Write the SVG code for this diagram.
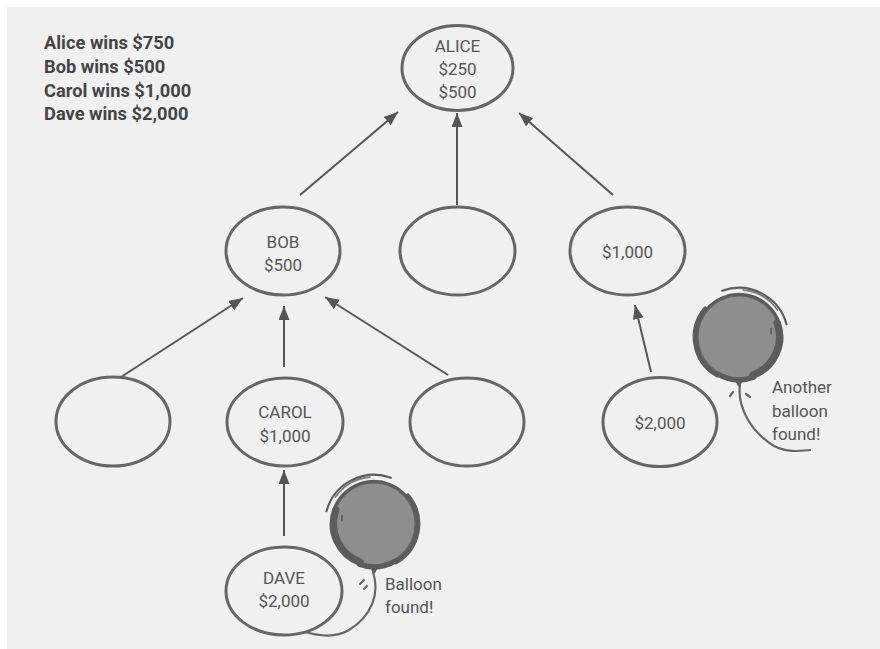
<svg xmlns="http://www.w3.org/2000/svg" width="880" height="649" viewBox="0 0 880 649">
  <style>
    .node ellipse { fill: none; stroke: #666; stroke-width: 3; }
    .node text, .note { font-family: Roboto, "Liberation Sans", sans-serif; font-size: 17px; fill: #555; text-anchor: middle; }
    .note { text-anchor: start; }
    .legend { font-family: Roboto, "Liberation Sans", sans-serif; font-size: 18.3px; font-weight: bold; fill: #444; }
    .edge { stroke: #555; stroke-width: 2; fill: none; marker-end: url(#head); }
    .ink { fill: none; stroke: #5c5c5c; stroke-linecap: round; }
    .string { fill: none; stroke: #666; stroke-width: 2.2; stroke-linecap: round; }
  </style>
  <defs>
    <marker id="head" markerUnits="userSpaceOnUse" markerWidth="15" markerHeight="12" refX="14" refY="5.5" orient="auto">
      <path d="M0,0 L14,5.5 L0,11 z" fill="#555"/>
    </marker>
    <!-- brush-painted balloon, centred on the origin -->
    <g id="balloon">
      <circle r="40" fill="#8e8e8e"/>
      <circle r="39" class="ink" stroke-width="2.5" opacity="0.8"/>
      <path class="ink" stroke-width="7" d="M-13,35.7 A38,38 0 0 1 -35.7,-13"/>
      <path class="ink" stroke-width="2" d="M-44.4,-11.9 A46,46 0 0 1 15.7,-43.2"/>
      <path class="ink" stroke-width="1.5" opacity="0.8" d="M-36,-25.2 A44,44 0 0 1 -3.8,-43.8"/>
      <path class="ink" stroke-width="4.5" d="M31.4,-26.4 A41,41 0 0 1 20.5,35.5"/>
      <path class="ink" stroke-width="5" d="M20,34.6 A40,40 0 0 1 -13.7,37.6"/>
      <path class="ink" stroke-width="2.5" d="M-37.6,-13.7 A40,40 0 0 1 30.6,-25.7"/>
      <path class="ink" stroke-width="1.5" d="M-30,-8 L-30,-3"/>
      <path d="M-4,40 L4,40 L1,46 L-1,46 z" fill="#5c5c5c"/>
    </g>
  </defs>

  <!-- panel -->
  <rect x="0" y="0" width="880" height="649" fill="#ffffff"/>
  <rect x="7" y="7" width="873" height="642" fill="#f0f0f0"/>

  <!-- payout summary -->
  <g id="legend" class="legend">
    <text x="44" y="49">Alice wins $750</text>
    <text x="44" y="73">Bob wins $500</text>
    <text x="44" y="97">Carol wins $1,000</text>
    <text x="44" y="120">Dave wins $2,000</text>
  </g>

  <!-- referral links -->
  <g id="connectors">
    <line class="edge" x1="300" y1="195" x2="398" y2="112"/>
    <line class="edge" x1="457" y1="205" x2="457" y2="113"/>
    <line class="edge" x1="613" y1="195" x2="519" y2="113"/>
    <line class="edge" x1="121" y1="377" x2="243" y2="298"/>
    <line class="edge" x1="284" y1="367" x2="284" y2="306"/>
    <line class="edge" x1="448" y1="375" x2="325" y2="297"/>
    <line class="edge" x1="651" y1="372" x2="635" y2="305"/>
    <line class="edge" x1="284" y1="536" x2="284" y2="470"/>
  </g>

  <g id="alice" class="node">
    <ellipse cx="457.5" cy="68" rx="55.5" ry="42.5"/>
    <text x="457.5" y="52">ALICE</text>
    <text x="457.5" y="75">$250</text>
    <text x="457.5" y="98">$500</text>
  </g>
  <g id="bob" class="node">
    <ellipse cx="283" cy="251" rx="57" ry="44"/>
    <text x="283" y="248">BOB</text>
    <text x="283" y="271">$500</text>
  </g>
  <g id="mid" class="node">
    <ellipse cx="457.5" cy="251" rx="57.5" ry="44"/>
  </g>
  <g id="right" class="node">
    <ellipse cx="627.5" cy="251" rx="57.5" ry="44"/>
    <text x="627.5" y="258">$1,000</text>
  </g>
  <g id="leftleaf" class="node">
    <ellipse cx="113" cy="421.5" rx="57" ry="44.5"/>
  </g>
  <g id="carol" class="node">
    <ellipse cx="285" cy="422" rx="58" ry="44"/>
    <text x="285" y="418">CAROL</text>
    <text x="285" y="442">$1,000</text>
  </g>
  <g id="rightleaf" class="node">
    <ellipse cx="467" cy="422" rx="57" ry="44"/>
  </g>
  <g id="finder2" class="node">
    <ellipse cx="660" cy="422" rx="57" ry="44.5"/>
    <text x="660" y="429">$2,000</text>
  </g>
  <g id="dave" class="node">
    <ellipse cx="284" cy="591" rx="58" ry="44"/>
    <text x="284" y="584">DAVE</text>
    <text x="284" y="607">$2,000</text>
  </g>

  <!-- balloon beside Dave -->
  <g id="balloon1">
    <use href="#balloon" transform="translate(374,524) scale(1.07)"/>
    <path class="string" d="M373,572 C380,593 372,616 349,630 C336,638 319,636 305,632"/>
    <path class="string" stroke-width="1" d="M364,580 L360,584 M367,586 L364,589"/>
    <text class="note" x="385" y="590">Balloon</text>
    <text class="note" x="385" y="613">found!</text>
  </g>

  <!-- second balloon -->
  <g id="balloon2">
    <use href="#balloon" transform="translate(739,337) scale(-1.07,1.07)"/>
    <path class="string" d="M740,385 C737,407 751,432 774,446 C788,453 800,451 810,450"/>
    <path class="string" stroke-width="1" d="M746,394 L750,397 M733,392 L730,396"/>
    <text class="note" x="772" y="393">Another</text>
    <text class="note" x="772" y="417">balloon</text>
    <text class="note" x="772" y="440">found!</text>
  </g>
</svg>
